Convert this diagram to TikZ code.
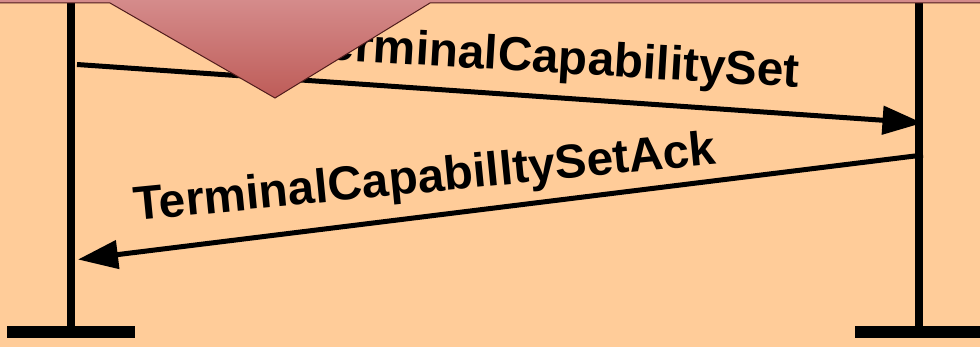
\documentclass[tikz,border=0pt]{standalone}
\usepackage{fontspec}
\setmainfont{Liberation Sans}
\usetikzlibrary{arrows.meta}
\definecolor{peach}{RGB}{255,204,153}
\definecolor{arrowtop}{RGB}{214,142,142}
\definecolor{arrowbot}{RGB}{190,92,88}
\definecolor{arrowedge}{RGB}{80,28,28}
\tikzset{
  lifeline/.style={line width=8.5pt},
  lifebar/.style={line width=12pt},
  msg/.style={line width=5pt, -{Triangle[length=40pt,width=28pt]}},
  msglabel/.style={inner sep=0pt, anchor=base west,
    font=\fontsize{47.7}{50}\selectfont\bfseries},
}
\begin{document}
\begin{tikzpicture}[x=1pt,y=-1pt]
\useasboundingbox (0,0) rectangle (980,347);
\fill[peach] (0,0) rectangle (980,347);

% lifeline end points
\coordinate (Atop) at (71,3);
\coordinate (Abot) at (71,326);
\coordinate (Btop) at (919,3);
\coordinate (Bbot) at (919,326);
\coordinate (AbarL) at (7,332);
\coordinate (AbarR) at (135,332);
\coordinate (BbarL) at (855,332);
\coordinate (BbarR) at (982,332);

% lifelines with their foot bars
\draw[lifeline] (Atop) -- (Abot);
\draw[lifeline] (Btop) -- (Bbot);
\draw[lifebar] (AbarL) -- (AbarR);
\draw[lifebar] (BbarL) -- (BbarR);

% messages
\coordinate (m1s) at (77,64.5);
\coordinate (m1e) at (922.5,123);
\coordinate (m2s) at (923,155);
\coordinate (m2e) at (78,259.5);
\draw[msg] (m1s) -- (m1e);
\draw[msg] (m2s) -- (m2e);

\node[msglabel, rotate=-3.4] (l1) at (302,58) {TerminalCapabilitySet};

% block arrow coming down from above
\shade[top color=arrowtop, bottom color=arrowbot, draw=arrowedge, line width=1pt]
  (-3,-6) -- (983,-6) -- (983,3) -- (430,3) -- (275,98) -- (110,3) -- (-3,3) -- cycle;

\node[msglabel, rotate=5.6] (l2) at (135,221) {TerminalCapabilltySetAck};
\end{tikzpicture}
\end{document}
